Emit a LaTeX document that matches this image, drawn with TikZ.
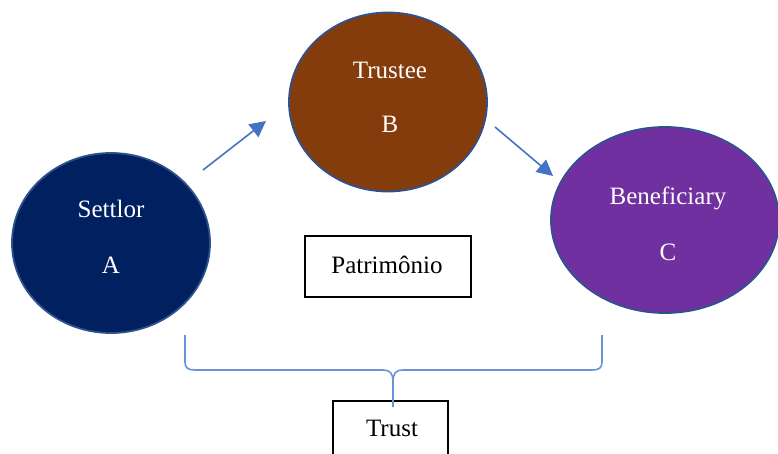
\documentclass[tikz,border=0pt]{standalone}
\usepackage{fontspec}
\setmainfont{Liberation Serif}
\usetikzlibrary{shapes.geometric,arrows.meta}
\definecolor{navy}{HTML}{002060}
\definecolor{brownfill}{HTML}{843C0C}
\definecolor{purplefill}{HTML}{7030A0}
\definecolor{rimblue}{HTML}{2F528F}
\definecolor{linkblue}{HTML}{4472C4}
\definecolor{braceblue}{HTML}{6A93D6}
\tikzset{
  party/.style={ellipse, draw=rimblue, line width=1.8pt, inner sep=0pt},
  lbl/.style={text=white, font=\fontsize{25}{30}\selectfont, inner sep=0pt, anchor=center},
  boxed/.style={draw=black, line width=1.3pt, inner sep=0pt},
  boxtxt/.style={font=\fontsize{25}{30}\selectfont, inner sep=0pt, anchor=center},
  link/.style={draw=linkblue, line width=1.6pt, -{Triangle[length=16pt,width=16pt]}},
  bracestyle/.style={draw=braceblue, line width=1.6pt}
}
\begin{document}
\begin{tikzpicture}[x=1pt,y=-1pt]
\useasboundingbox (0,0) rectangle (778,454);
\clip (0,0) rectangle (778,454);
% parties
\node[party, fill=navy, minimum width=198pt, minimum height=180pt] (A) at (111,243) {};
\node[party, fill=brownfill, minimum width=198pt, minimum height=179pt] (B) at (388,102) {};
\node[party, fill=purplefill, minimum width=228pt, minimum height=186pt] (C) at (665,220) {};
\node[lbl] (A1) at (111,209) {Settlor};
\node[lbl] (A2) at (111,265) {A};
\node[lbl] (B1) at (390,70) {Trustee};
\node[lbl] (B2) at (390,124) {B};
\node[lbl] (C1) at (668,198) {Beneficiary};
\node[lbl] (C2) at (668,252) {C};
% boxes
\node[boxed, minimum width=166pt, minimum height=61pt] (P) at (388,266.5) {};
\node[boxtxt] (Pt) at (387,265) {Patrimônio};
\node[boxed, minimum width=115pt, minimum height=70pt] (T) at (390.5,436) {};
\node[boxtxt] (Tt) at (392,428) {Trust};
% arrows
\coordinate (a1s) at (203,170);
\coordinate (a1e) at (266,121);
\coordinate (a2s) at (495,127);
\coordinate (a2e) at (553,176);
\draw[link] (a1s) -- (a1e);
\draw[link] (a2s) -- (a2e);
% brace
\coordinate (bl) at (185,335);
\coordinate (br) at (602,335);
\coordinate (bt) at (393,407);
\draw[bracestyle] (bl) -- (185,362) .. controls (185,368) and (188,370) .. (195,370)
  -- (383,370) .. controls (390,370) and (393,373) .. (393,382) -- (bt);
\draw[bracestyle] (393,382) .. controls (393,373) and (396,370) .. (403,370)
  -- (592,370) .. controls (599,370) and (602,368) .. (602,362) -- (br);
\end{tikzpicture}
\end{document}
